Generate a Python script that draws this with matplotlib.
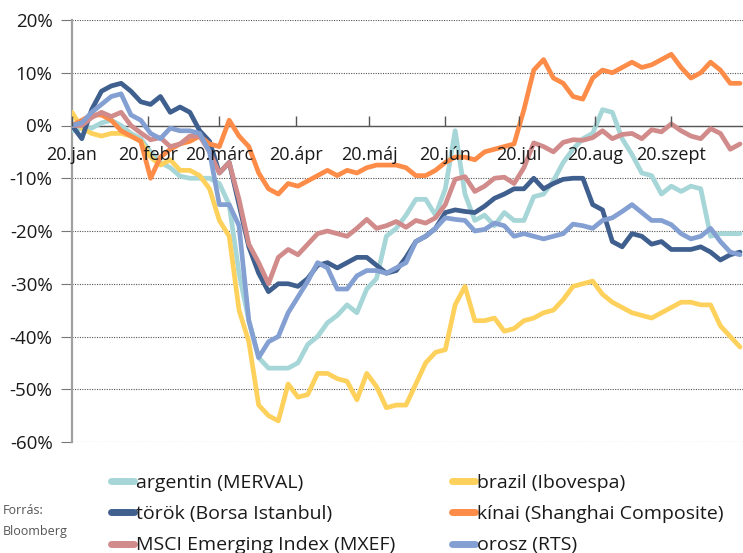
import matplotlib
matplotlib.use("Agg")
import matplotlib.pyplot as plt
import pandas as pd
from matplotlib.lines import Line2D

plt.rcParams['font.family'] = ['Open Sans', 'DejaVu Sans']

# ---- data (percent change since 20 Jan 2020, one value every 4 days) ----
start_date = "2020-01-20"
step = "4D"

argentin = [-1, -0.5, -0.5, 0.5, 1, 0, -1.5, -2.5, -5, -7, -8, -9.6, -10, -10, -10, -11,
            -15, -28, -37, -44, -46, -46, -46, -45, -41.5, -40, -37.4, -36, -34, -35.5,
            -31, -29, -21, -19.5, -17, -14, -14, -17, -12, -1, -13, -18, -17, -19, -16.5,
            -18, -18, -13.5, -13, -10.5, -7, -4.5, -2.5, -1.5, 3, 2.5, -2.5, -5.5, -9,
            -9.5, -13, -11.5, -12.5, -11.5, -12, -21, -20.5, -20.5, -20.5]
brazil = [2.5, -0.5, -1.5, -2, -1.5, -1.5, -2, -3, -6, -7.5, -6.5, -8.5, -8.5, -9.5, -12,
          -18, -21, -35, -41, -53, -55, -56, -49, -51.5, -51, -47, -47, -48, -48.5, -52,
          -47, -49.5, -53.5, -53, -53, -49, -45, -43, -42.5, -34, -30.5, -37, -37, -36.5,
          -39, -38.5, -37, -36.5, -35.5, -35, -33, -30.5, -30, -29.5, -32, -33.5, -34.5,
          -35.5, -36, -36.5, -35.5, -34.5, -33.5, -33.5, -34, -34, -38, -40, -42]
torok = [0, -2.5, 3, 6.5, 7.5, 8, 6.5, 4.5, 4, 5.5, 2.5, 3.5, 2.5, -1, -3, -9, -7, -15,
         -23, -28, -31.5, -30, -30, -30.5, -29, -26.5, -26, -27, -26, -25, -25, -26.5, -28,
         -27.5, -25, -22, -21, -19.5, -16.5, -16, -16.3, -16.5, -15.3, -13.8, -13, -12,
         -12, -10, -12, -11, -10.2, -10, -10, -15, -16, -22, -23, -20.5, -21, -22.5, -22,
         -23.5, -23.5, -23.5, -23, -24, -25.5, -24.5, -24]
kinai = [0, 1, 2, 2, 1, -1, -2, -3, -10, -6, -4.5, -3.5, -3, -2, -3.5, -4, 1, -2, -4, -9,
         -12, -13, -11, -11.5, -10.5, -9.5, -8.5, -9.5, -8.5, -9, -8, -7.5, -7.5, -7.5, -8,
         -9.5, -9.5, -8.5, -7, -6, -6, -6.5, -5, -4.5, -4, -3.5, 3, 10.5, 12.5, 9, 8, 5.5,
         5, 9, 10.5, 10, 11, 12, 11, 11.5, 12.5, 13.5, 11, 9, 10, 12, 10.5, 8, 8]
msci = [0, 0, 1.5, 2.5, 1.7, 2.5, 0, -1.4, -2.7, -2.3, -4, -3.5, -2, -2, -5, -9, -7, -14,
        -22.5, -26, -30, -25, -23.5, -24.5, -22.5, -20.5, -20, -20.5, -21, -19.5, -17.8,
        -19.5, -19, -18.2, -19.3, -18, -18.5, -17.5, -15, -10.2, -9.7, -12.5, -11.5, -10,
        -9.8, -11, -8, -3.3, -4, -5, -3.2, -2.7, -2.8, -2.3, -1, -2.5, -1.7, -1.5, -2.5,
        -0.8, -1.2, 0.3, -1, -2, -2.5, -0.6, -1.5, -4.5, -3.5]
orosz = [0, 0.5, 2.5, 4, 5.5, 6, 2, 1, -1.5, -2.5, -0.5, -1, -1, -1.5, -5, -15, -15, -19,
         -37, -44, -41, -40, -35.5, -32.5, -29.5, -26, -27, -31, -31, -28.5, -27.5, -27.5,
         -28, -27, -26, -22, -21, -19.5, -17.5, -17.8, -18, -20, -19.7, -18.5, -19, -21,
         -20.5, -21, -21.5, -21, -20.5, -18.7, -19, -19.5, -18, -17.5, -16.3, -15, -16.5,
         -18, -18, -18.8, -20.5, -21.5, -21, -19.5, -22, -24, -24.5]

series_labels = ["argentin (MERVAL)", "brazil (Ibovespa)", "török (Borsa Istanbul)",
                 "kínai (Shanghai Composite)", "MSCI Emerging Index (MXEF)", "orosz (RTS)"]
series_values = [argentin, brazil, torok, kinai, msci, orosz]
series_colors = ["#a6d6d7", "#fdd15b", "#3f5f8e", "#fd8c48", "#d08b8a", "#84a0d3"]

month_labels = ["20.jan", "20.febr", "20.márc", "20.ápr", "20.máj", "20.jún",
                "20.júl", "20.aug", "20.szept"]
y_ticks = [-60, -50, -40, -30, -20, -10, 0, 10, 20]
y_labels = ["-60%", "-50%", "-40%", "-30%", "-20%", "-10%", "0%", "10%", "20%"]

dates = pd.date_range(start_date, periods=len(argentin), freq=step)
month_ticks = pd.date_range(start_date, periods=len(month_labels),
                            freq=pd.DateOffset(months=1))

fig = plt.figure(figsize=(7.43, 5.53), dpi=100)
ax = fig.add_axes([72 / 743, 1 - 442 / 553, 1 - 72 / 743, (442 - 20) / 553])

for vals, col, lab in zip(series_values, series_colors, series_labels):
    ax.plot(dates, vals, color=col, lw=3.4, solid_joinstyle='round',
            solid_capstyle='round', label=lab, zorder=3)

ax.set_ylim(-60, 20)
ax.set_xlim(pd.Timestamp(start_date), pd.Timestamp(start_date) + pd.Timedelta(days=273.2))

ax.set_yticks(y_ticks)
ax.set_yticklabels(y_labels)
ax.set_xticks(month_ticks)
ax.set_xticklabels(month_labels)

ax.yaxis.grid(True, linestyle=(0, (1, 1.2)), color='#555555', lw=0.8, zorder=0)
ax.set_axisbelow(True)
ax.xaxis.set_zorder(4)  # month labels drawn over the lines, as in the original

for s in ['top', 'right']:
    ax.spines[s].set_visible(False)
ax.spines['left'].set_color('#a0a0a0')
ax.spines['left'].set_linewidth(1.6)
ax.spines['bottom'].set_position(('data', 0))
ax.spines['bottom'].set_color('#555555')
ax.spines['bottom'].set_linewidth(1.0)
ax.spines['bottom'].set_zorder(2)

ax.tick_params(axis='x', direction='in', length=7, width=1, color='#555555',
               pad=15, labelsize=13, labelcolor='#1a1a1a')
ax.tick_params(axis='y', direction='out', length=8, width=0.8, color='#777777',
               pad=6, labelsize=13.5, labelcolor='#1a1a1a')

# legend (column-major: left column argentin, török, MSCI; right column brazil, kínai, orosz)
order = [0, 2, 4, 1, 3, 5]
handles = [Line2D([0], [0], color=series_colors[i], lw=5, solid_capstyle='round')
           for i in order]
labels = [series_labels[i] for i in order]
fig.legend(handles, labels, loc='upper left', bbox_to_anchor=(111 / 743, 1 - 474 / 553),
           ncol=2, frameon=False, fontsize=14, handlelength=1.2, handletextpad=0.1,
           columnspacing=2.9, labelspacing=0.68, borderpad=0, borderaxespad=0,
           labelcolor='#1a1a1a')

fig.text(3 / 743, 1 - 510 / 553, "Forrás:", fontsize=9, color='#555555', va='center')
fig.text(3 / 743, 1 - 531 / 553, "Bloomberg", fontsize=9, color='#555555', va='center')

fig.savefig("out.png", dpi=100)
